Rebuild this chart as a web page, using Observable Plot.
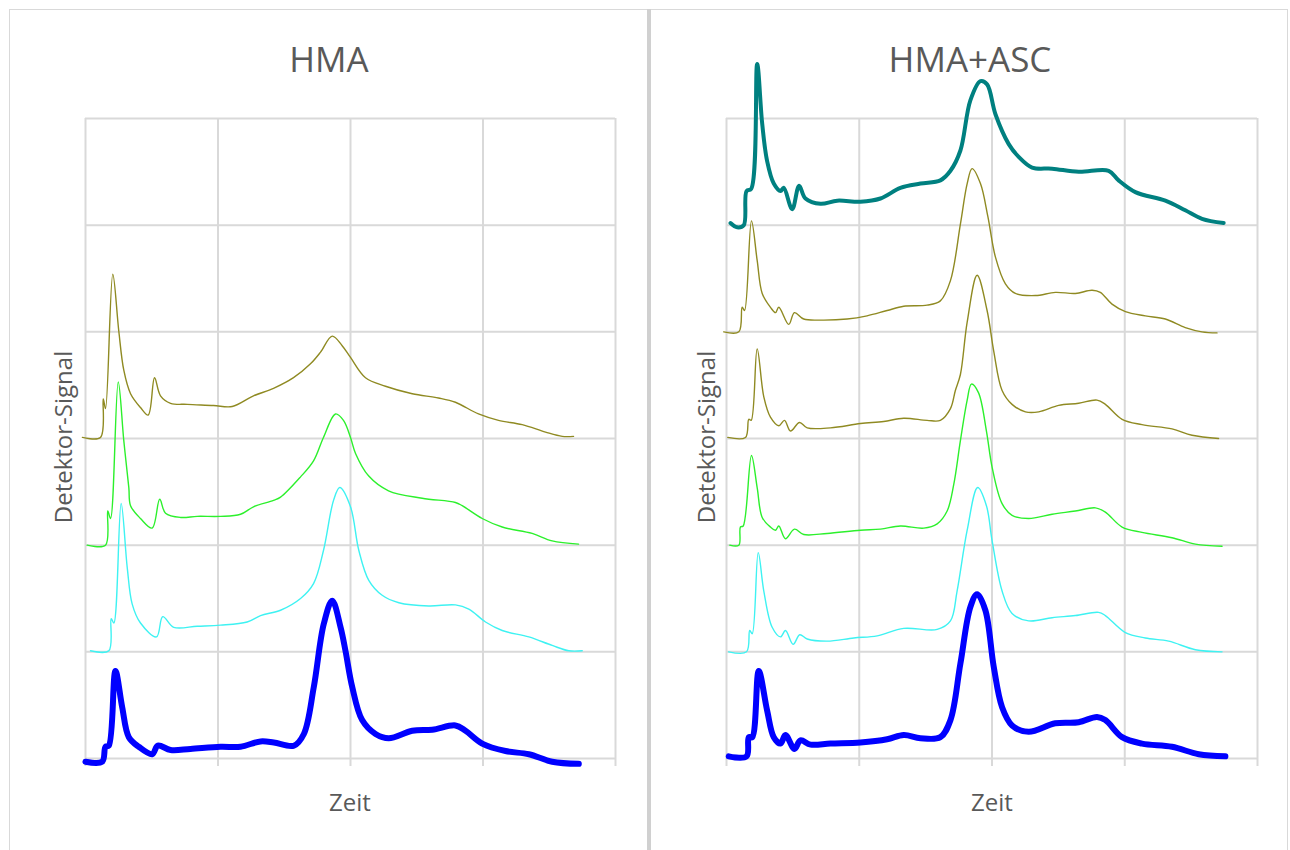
<!DOCTYPE html>
<html><head><meta charset="utf-8">
<script src="https://cdn.jsdelivr.net/npm/d3@7"></script>
<script src="https://cdn.jsdelivr.net/npm/@observablehq/plot@0.6"></script>
<style>
body{margin:0;width:1290px;height:850px;overflow:hidden;background:#fff;font-family:"Open Sans",sans-serif;position:relative}
.frame{position:absolute;top:9px;height:850px;box-sizing:border-box}
.chart{position:absolute;top:0}
.lbl{position:absolute;color:#595959;white-space:nowrap;transform:translate(-50%,-50%)}
.title{font-size:35px}
.axl{font-size:24px}
.rot{transform:translate(-50%,-50%) rotate(-90deg)}
</style></head>
<body>
<div class="frame" style="left:9px;width:638px;border-top:1px solid #d9d9d9;border-left:1px solid #d9d9d9"></div>
<div class="frame" style="left:647px;width:4px;background:#d0d0d0"></div>
<div class="frame" style="left:651px;width:637px;border-top:1px solid #d9d9d9;border-right:1px solid #d9d9d9"></div>
<div id="left" class="chart" style="left:0"></div>
<div id="right" class="chart" style="left:648px"></div>
<div class="lbl title" style="left:329px;top:58px">HMA</div>
<div class="lbl title" style="left:970px;top:58px">HMA+ASC</div>
<div class="lbl axl rot" style="left:62px;top:437px">Detektor-Signal</div>
<div class="lbl axl rot" style="left:705px;top:437px">Detektor-Signal</div>
<div class="lbl axl" style="left:350px;top:801px">Zeit</div>
<div class="lbl axl" style="left:992px;top:801px">Zeit</div>
<script>
// Tick positions (time, signal)
const xTicks = [0, 10, 20, 30, 40];
const yTicks = [0, 1, 2, 3, 4, 5, 6];

// ---- HMA panel: [time, signal] ----
const hmaOlive = [[-0.23,3.01],[1.13,3.01],[1.34,3.37],[1.51,3.28],[2.06,4.54],[2.51,4.01],[2.89,3.64],[3.40,3.42],[4.15,3.29],[4.73,3.22],[5.21,3.57],[5.66,3.40],[6.42,3.33],[7.68,3.32],[9.66,3.31],[11.07,3.30],[12.68,3.40],[14.19,3.47],[15.70,3.57],[16.98,3.70],[17.74,3.81],[18.62,3.96],[19.37,3.87],[20.00,3.76],[21.13,3.57],[22.64,3.49],[24.66,3.42],[26.64,3.38],[27.92,3.34],[29.66,3.23],[31.17,3.17],[32.96,3.13],[34.72,3.06],[35.98,3.02],[36.83,3.02]];
const hmaGreen = [[0.13,2.00],[1.51,2.00],[1.68,2.32],[1.89,2.25],[2.47,3.53],[2.89,2.98],[3.27,2.54],[3.40,2.37],[4.15,2.25],[5.03,2.16],[5.60,2.43],[6.04,2.30],[7.17,2.26],[8.43,2.27],[10.19,2.27],[11.70,2.29],[12.68,2.36],[14.19,2.42],[14.72,2.45],[16.23,2.64],[17.21,2.79],[17.96,3.01],[18.87,3.23],[19.47,3.17],[20.00,3.01],[20.38,2.86],[21.36,2.65],[22.87,2.51],[25.41,2.44],[27.92,2.40],[28.43,2.37],[29.94,2.25],[31.45,2.17],[33.71,2.11],[35.22,2.04],[37.21,2.01]];
const hmaCyan = [[0.38,1.01],[1.76,1.01],[1.94,1.31],[2.14,1.27],[2.69,2.39],[3.15,1.79],[3.52,1.45],[4.15,1.27],[5.36,1.14],[5.83,1.33],[6.66,1.23],[8.43,1.24],[10.19,1.25],[12.20,1.28],[13.21,1.34],[14.72,1.39],[16.23,1.50],[17.21,1.64],[17.96,1.95],[18.72,2.42],[19.19,2.54],[20.00,2.36],[20.63,1.95],[21.38,1.67],[22.39,1.53],[23.65,1.46],[25.91,1.43],[27.92,1.44],[28.93,1.40],[30.19,1.28],[31.45,1.20],[33.46,1.14],[35.22,1.06],[36.48,1.01],[37.49,1.01]];
const hmaBlue = [[0.00,-0.03],[1.26,-0.03],[1.51,0.11],[1.76,0.12],[2.26,0.82],[2.77,0.48],[3.27,0.20],[4.02,0.11],[5.03,0.04],[5.46,0.12],[6.42,0.08],[7.92,0.09],[10.19,0.11],[11.70,0.11],[13.21,0.16],[14.21,0.15],[15.72,0.12],[16.48,0.23],[17.23,0.67],[17.98,1.26],[18.62,1.48],[19.25,1.23],[19.62,1.01],[20.13,0.67],[20.88,0.36],[21.89,0.23],[22.89,0.19],[24.66,0.26],[26.17,0.27],[27.92,0.31],[28.68,0.26],[29.94,0.14],[31.70,0.07],[33.46,0.04],[35.22,-0.03],[37.23,-0.05]];

// ---- HMA+ASC panel: [time, signal] ----
const ascTeal = [[0.30,5.02],[0.80,4.98],[1.30,5.00],[1.51,5.32],[1.86,5.34],[2.31,6.51],[2.69,5.95],[3.06,5.60],[3.56,5.39],[4.07,5.32],[4.31,5.35],[4.95,5.15],[5.47,5.37],[5.95,5.25],[7.08,5.20],[8.34,5.23],[10.09,5.22],[11.60,5.25],[13.10,5.35],[14.61,5.39],[16.11,5.42],[16.87,5.51],[17.62,5.70],[18.37,6.17],[19.13,6.35],[19.63,6.32],[20.26,6.04],[21.26,5.76],[22.01,5.64],[23.02,5.54],[24.53,5.53],[26.53,5.50],[28.79,5.51],[29.54,5.42],[30.80,5.31],[33.06,5.23],[34.56,5.14],[35.82,5.06],[37.45,5.02]];
const ascOlive1 = [[-0.20,4.00],[0.93,4.00],[1.18,4.23],[1.36,4.20],[1.88,5.04],[2.31,4.67],[2.69,4.36],[3.31,4.23],[3.69,4.18],[3.94,4.23],[4.69,4.07],[5.12,4.18],[5.82,4.12],[7.08,4.11],[9.09,4.12],[10.59,4.15],[12.10,4.20],[13.35,4.24],[15.11,4.25],[16.11,4.29],[16.87,4.48],[17.62,5.01],[18.13,5.39],[18.50,5.53],[19.13,5.39],[19.69,5.08],[20.26,4.70],[21.01,4.45],[21.76,4.36],[23.27,4.34],[24.77,4.37],[26.28,4.36],[27.54,4.39],[28.16,4.37],[29.04,4.26],[30.05,4.19],[31.55,4.15],[33.06,4.12],[34.56,4.04],[35.82,4.00],[36.95,3.99]];
const ascOlive2 = [[0.10,3.01],[1.43,3.01],[1.68,3.18],[1.86,3.17],[2.31,3.84],[2.81,3.39],[3.31,3.20],[3.94,3.12],[4.37,3.17],[4.82,3.07],[5.50,3.15],[6.08,3.10],[7.83,3.10],[10.09,3.14],[11.84,3.16],[13.35,3.19],[15.11,3.17],[16.11,3.17],[16.87,3.28],[17.24,3.45],[17.62,3.60],[18.13,4.09],[18.88,4.53],[19.63,4.20],[20.13,3.82],[20.76,3.45],[21.51,3.32],[22.52,3.25],[23.52,3.25],[25.02,3.31],[26.53,3.33],[27.91,3.36],[28.54,3.32],[29.80,3.18],[31.30,3.13],[33.56,3.09],[35.07,3.03],[37.07,3.00]];
const ascGreen = [[0.25,2.00],[0.93,2.00],[1.05,2.17],[1.26,2.18],[1.88,2.84],[2.31,2.54],[2.69,2.26],[3.31,2.17],[3.69,2.14],[3.94,2.18],[4.44,2.06],[5.12,2.15],[5.82,2.10],[7.58,2.11],[10.09,2.14],[11.60,2.15],[13.10,2.18],[14.86,2.16],[15.87,2.20],[16.62,2.32],[17.12,2.57],[17.62,2.98],[18.13,3.36],[18.45,3.51],[18.98,3.43],[19.58,3.07],[20.01,2.73],[20.76,2.39],[21.51,2.28],[22.76,2.25],[24.53,2.29],[26.28,2.32],[27.79,2.35],[28.54,2.31],[29.80,2.17],[31.30,2.12],[33.56,2.07],[35.32,2.01],[37.33,1.99]];
const ascCyan = [[0.17,1.00],[1.51,1.00],[1.75,1.20],[1.94,1.17],[2.39,1.93],[2.81,1.57],[3.44,1.23],[4.07,1.14],[4.44,1.20],[5.02,1.07],[5.52,1.16],[6.08,1.12],[7.58,1.10],[9.59,1.13],[11.35,1.15],[13.35,1.22],[15.87,1.21],[16.87,1.29],[17.37,1.57],[18.13,2.14],[18.92,2.54],[19.58,2.37],[20.01,2.04],[20.76,1.57],[21.51,1.36],[22.76,1.29],[24.53,1.32],[26.28,1.34],[28.03,1.37],[28.54,1.34],[30.05,1.18],[31.55,1.13],[33.31,1.10],[35.32,1.02],[37.33,1.00]];
const ascBlue = [[0.17,0.02],[1.51,0.02],[1.68,0.20],[1.94,0.20],[2.43,0.82],[3.06,0.45],[3.56,0.20],[4.07,0.14],[4.44,0.22],[5.12,0.09],[5.57,0.17],[6.33,0.13],[7.83,0.14],[10.09,0.15],[12.10,0.18],[13.35,0.22],[14.61,0.19],[16.11,0.20],[16.87,0.36],[17.62,0.89],[18.37,1.42],[18.88,1.54],[19.50,1.39],[20.13,0.86],[20.76,0.48],[21.51,0.31],[22.76,0.25],[24.77,0.33],[26.53,0.34],[27.91,0.39],[28.54,0.36],[29.80,0.20],[31.30,0.14],[33.56,0.11],[35.57,0.04],[37.58,0.02]];

const OLIVE = "#8f8a22", GREEN = "#2cf02c", CYAN = "#3ef2f2", BLUE = "#0000ff", TEAL = "#008080";

function chart(series, width, marginLeft) {
  const grid = {stroke: "#d9d9d9", strokeOpacity: 1, strokeWidth: 2};
  return Plot.plot({
    width, height: 850,
    marginLeft, marginRight: 33, marginTop: 118, marginBottom: 92,
    x: {domain: [0, 40]},
    y: {domain: [0, 6], axis: null},
    style: {overflow: "visible", background: "transparent"},
    marks: [
      Plot.gridX(xTicks, grid),
      Plot.gridY(yTicks, grid),
      Plot.axisX(xTicks, {tickSize: 8, tickFormat: () => "", stroke: "#d9d9d9", strokeWidth: 2, label: null}),
      ...series.map(s => Plot.line(s.data, {x: d => d[0], y: d => d[1], stroke: s.color, strokeWidth: s.w, curve: "catmull-rom", strokeLinejoin: "round"}))
    ]
  });
}

document.getElementById("left").append(chart([
  {data: hmaOlive, color: OLIVE, w: 1.4},
  {data: hmaGreen, color: GREEN, w: 1.4},
  {data: hmaCyan, color: CYAN, w: 1.4},
  {data: hmaBlue, color: BLUE, w: 6}
], 648, 85));

document.getElementById("right").append(chart([
  {data: ascTeal, color: TEAL, w: 4},
  {data: ascOlive1, color: OLIVE, w: 1.4},
  {data: ascOlive2, color: OLIVE, w: 1.4},
  {data: ascGreen, color: GREEN, w: 1.4},
  {data: ascCyan, color: CYAN, w: 1.4},
  {data: ascBlue, color: BLUE, w: 6}
], 642, 78));
</script>
</body></html>
